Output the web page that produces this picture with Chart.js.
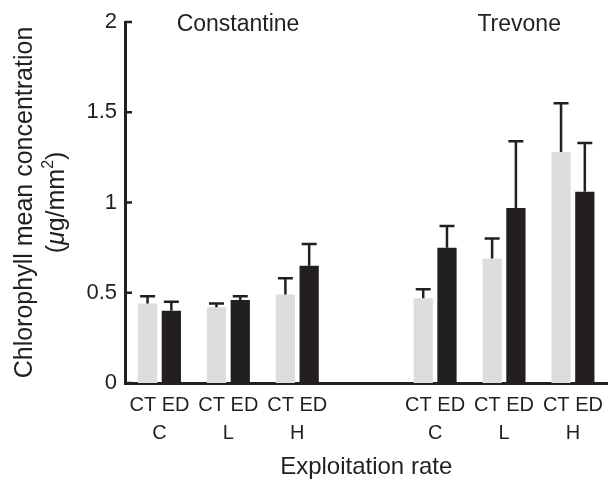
<!DOCTYPE html>
<html>
<head>
<meta charset="utf-8">
<script src="https://cdn.jsdelivr.net/npm/chart.js@4/dist/chart.umd.min.js"></script>
<style>
  html, body { margin: 0; padding: 0; background: #fff; }
</style>
</head>
<body>
<canvas id="chart" width="611" height="481"></canvas>
<script>
// Clorofila: medias y error estándar por sitio y tasa de explotación
const categories = [['CT ED', 'C'], ['CT ED', 'L'], ['CT ED', 'H'], ['', ''], ['CT ED', 'C'], ['CT ED', 'L'], ['CT ED', 'H']];
const ctMean = [0.44, 0.42, 0.49, null, 0.47, 0.69, 1.28];
const ctErr  = [0.04, 0.02, 0.09, null, 0.05, 0.11, 0.27];
const edMean = [0.40, 0.46, 0.65, null, 0.75, 0.97, 1.06];
const edErr  = [0.05, 0.02, 0.12, null, 0.12, 0.37, 0.27];
const yTicks = [0, 0.5, 1, 1.5, 2];
const sites = [{ name: 'Constantine', at: 1.14 }, { name: 'Trevone', at: 5.22 }];

const FONT = '"Liberation Sans", Arial, Helvetica, sans-serif';
const INK = '#231f20';

// Barras de error (solo hacia arriba) con su tapa
const errorBars = {
  id: 'errorBars',
  afterDatasetsDraw(chart) {
    const ctx = chart.ctx;
    const y = chart.scales.y;
    chart.data.datasets.forEach((ds, i) => {
      const meta = chart.getDatasetMeta(i);
      meta.data.forEach((bar, j) => {
        const m = ds.data[j];
        const e = ds.errors[j];
        if (m == null || e == null) return;
        const top = y.getPixelForValue(m + e);
        ctx.save();
        ctx.strokeStyle = INK;
        ctx.lineWidth = 2.5;
        ctx.beginPath();
        ctx.moveTo(bar.x, bar.y);
        ctx.lineTo(bar.x, top);
        ctx.moveTo(bar.x - 7.5, top);
        ctx.lineTo(bar.x + 7.5, top);
        ctx.stroke();
        ctx.restore();
      });
    });
  },
};

// Marcas del eje Y hacia dentro, título del eje Y y nombres de sitio
const decorations = {
  id: 'decorations',
  afterDraw(chart) {
    const ctx = chart.ctx;
    const area = chart.chartArea;
    const y = chart.scales.y;
    const x = chart.scales.x;
    ctx.save();
    ctx.strokeStyle = INK;
    ctx.lineWidth = 2.5;
    yTicks.forEach(v => {
      const py = y.getPixelForValue(v);
      ctx.beginPath();
      ctx.moveTo(area.left, py);
      ctx.lineTo(area.left + 7, py);
      ctx.stroke();
    });

    ctx.fillStyle = INK;
    ctx.textBaseline = 'middle';
    ctx.textAlign = 'center';
    ctx.font = '23px ' + FONT;
    sites.forEach(s => ctx.fillText(s.name, x.getPixelForValue(s.at), area.top + 3));

    // título Y en dos líneas, con μ en cursiva y superíndice
    const cy = (area.top + area.bottom) / 2;
    ctx.translate(0, cy);
    ctx.rotate(-Math.PI / 2);
    ctx.font = '25px ' + FONT;
    ctx.fillText('Chlorophyll mean concentration', 0, 25);
    const parts = [
      { t: '(', f: '25px ' + FONT, dy: 0 },
      { t: 'μ', f: 'italic 25px ' + FONT, dy: 0 },
      { t: 'g/mm', f: '25px ' + FONT, dy: 0 },
      { t: '2', f: '16px ' + FONT, dy: -8 },
      { t: ')', f: '25px ' + FONT, dy: 0 },
    ];
    let total = 0;
    parts.forEach(p => { ctx.font = p.f; p.w = ctx.measureText(p.t).width; total += p.w; });
    let px = -total / 2;
    ctx.textAlign = 'left';
    parts.forEach(p => { ctx.font = p.f; ctx.fillText(p.t, px, 57 + p.dy); px += p.w; });
    ctx.restore();
  },
};

new Chart(document.getElementById('chart').getContext('2d'), {
  type: 'bar',
  data: {
    labels: categories,
    datasets: [
      { label: 'CT', data: ctMean, errors: ctErr, backgroundColor: '#dcdddf' },
      { label: 'ED', data: edMean, errors: edErr, backgroundColor: INK },
    ],
  },
  options: {
    responsive: false,
    animation: false,
    devicePixelRatio: 1,
    categoryPercentage: 0.69,
    barPercentage: 0.81,
    layout: { padding: { top: 22, right: 1, left: 0, bottom: 0 } },
    plugins: { legend: { display: false }, tooltip: { enabled: false } },
    scales: {
      x: {
        grid: { display: false, drawTicks: false },
        border: { display: true, color: INK, width: 3 },
        ticks: { color: INK, font: { family: FONT, size: 20, lineHeight: 1.4 }, padding: 8, maxRotation: 0, autoSkip: false },
        title: { display: true, text: 'Exploitation rate', color: INK, font: { family: FONT, size: 24, lineHeight: 1.1 }, padding: { top: 12, bottom: 0 } },
        afterFit(scale) { scale.height = 98; },
      },
      y: {
        min: 0,
        max: 2,
        afterBuildTicks(scale) { scale.ticks = yTicks.map(v => ({ value: v })); },
        grid: { display: false, drawTicks: false },
        border: { display: true, color: INK, width: 3 },
        ticks: { color: INK, font: { family: FONT, size: 22 }, padding: 8, callback: v => String(v) },
        afterFit(scale) { scale.width = 125; },
      },
    },
  },
  plugins: [errorBars, decorations],
});
</script>
</body>
</html>
